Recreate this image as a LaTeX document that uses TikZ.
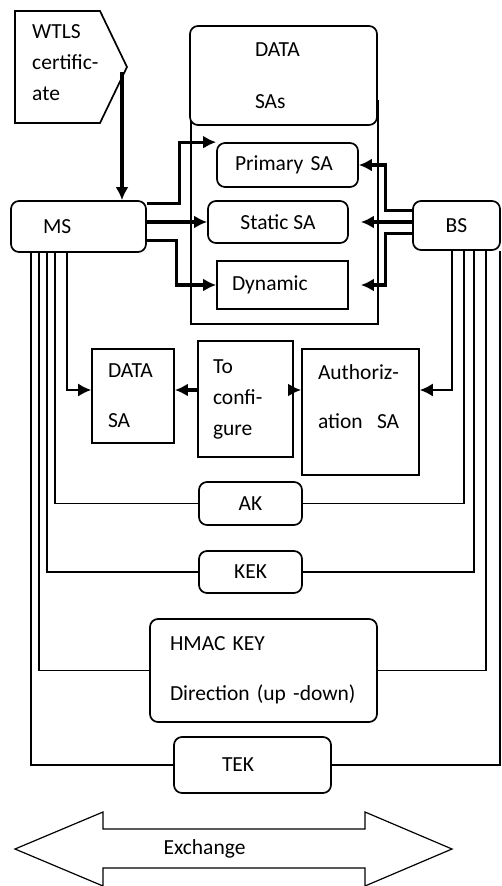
\documentclass[tikz,border=0pt]{standalone}
\usepackage{fontspec}
\setmainfont{Carlito}
\usetikzlibrary{arrows.meta,positioning,calc}

\begin{document}
\begin{tikzpicture}[x=1pt, y=-1pt,
        every node/.style={font=\fontsize{21.5}{31}\selectfont, inner sep=0pt},
        rbox/.style={draw, line width=1.7pt, rounded corners=8pt, fill=white},
        sbox/.style={draw, line width=1.7pt, fill=white},
        wire/.style={line width=1.7pt},
        arr/.style={line width=3.2pt, -{Latex[length=13pt,width=13pt]}},
        tarr/.style={line width=1.7pt, -{Latex[length=13pt,width=13pt]}}]
        \useasboundingbox (0,0) rectangle (502,886);

        % WTLS certificate (flag shape)
        \draw[wire] (15,11) -- (100,11) -- (127,67) -- (100,123) -- (15,123) -- cycle;
        \node[align=left, anchor=west] (cert) at (32,63) {WTLS\\certific-\\ate};
        \coordinate (certtip) at (122,72);

        % MS and BS
        \node[rbox, minimum width=135, minimum height=51, text width=71, align=left] (ms) at (78.5,226.5) {MS};
        \node[rbox, minimum width=87, minimum height=49] (bs) at (456.5,225.5) {BS};

        % DATA SAs group
        \node[sbox, minimum width=187, minimum height=223, anchor=north west] (grp) at (190,100) {};
        \node[rbox, minimum width=187, minimum height=99, text width=57, align=left] (datas) at (283.5,75.5) {DATA\\[21pt]SAs};
        \node[rbox, minimum width=141, minimum height=44, text width=105, align=left] (prim) at (287.5,165) {Primary SA};
        \node[rbox, minimum width=140, minimum height=42] (stat) at (278,222) {Static SA};
        \node[sbox, minimum width=131, minimum height=48, text width=101, align=left] (dyn) at (282.5,285) {Dynamic};

        % middle row
        \node[sbox, minimum width=82, minimum height=94, text width=50, align=left] (dsa) at (133,396) {DATA\\[19pt]SA};
        \node[sbox, minimum width=95, minimum height=116, text width=65, align=left] (conf) at (245.5,399) {To\\confi-\\gure};
        \node[sbox, minimum width=117, minimum height=126, text width=85, align=left] (auth) at (360.5,412) {Authoriz-\\[18pt]ation\ \ SA\\\mbox{}};

        % keys
        \node[rbox, minimum width=103, minimum height=43] (ak) at (250.5,503.5) {AK};
        \node[rbox, minimum width=103, minimum height=42] (kek) at (250.5,572) {KEK};
        \node[rbox, minimum width=227, minimum height=103, text width=187, align=left] (hmac) at (263.5,670.5) {HMAC KEY\\[19pt]Direction (up -down)};
        \node[rbox, minimum width=157, minimum height=56, text width=61, align=left] (tek) at (252.5,765) {TEK};

        % certificate to MS
        \draw[arr] (certtip) -- (certtip |- ms.north);

        % MS to the SAs
        \draw[arr] ([yshift=-3]ms.north east) -| ([xshift=-37]prim.north west) -- (prim.north west);
        \draw[arr] (ms.east |- stat.west) -- (stat.west);
        \draw[arr] ([yshift=12]ms.south east) -| ([xshift=-40]dyn.west) -- (dyn.west);

        % BS to the SAs
        \draw[arr] ([yshift=-10]bs.north west) -| ([xshift=27]prim.east) -- (prim.east);
        \draw[arr, shorten >=12pt] (bs.west |- stat.east) -- (stat.east);
        \draw[arr, shorten >=12pt] ([yshift=17]bs.south west) -| ([xshift=37]dyn.east) -- (dyn.east);

        % middle row arrows
        \draw[tarr] ([xshift=57]ms.south west) |- ([yshift=6]dsa.west);
        \draw[arr] ([yshift=9]conf.west) -- ([yshift=6]dsa.east);
        \draw[arr] ([yshift=9]conf.east) -- ([yshift=22]auth.west);
        \draw[tarr] ([xshift=-49]bs.south east) |- ([yshift=22]auth.east);

        % key wires
        \draw[wire] ([xshift=45]ms.south west) |- (ak.west);
        \draw[wire] (ak.east) -| ([xshift=-37]bs.south east);
        \draw[wire] ([xshift=37]ms.south west) |- (kek.west);
        \draw[wire] (kek.east) -| ([xshift=-27]bs.south east);
        \draw[wire] ([xshift=29]ms.south west) |- (hmac.west);
        \draw[wire] (hmac.east) -| ([xshift=-15]bs.south east);
        \draw[wire] ([xshift=21]ms.south west) |- (tek.west);
        \draw[wire] (tek.east) -| ([xshift=-1]bs.south east);

        % Exchange arrow
        \draw[line width=1.2pt] (15,849) -- (103,812) -- (103,829) -- (365,829) -- (365,812) -- (452,849) -- (365,886) -- (365,868) -- (103,868) -- (103,886) -- cycle;
        \node (exch) at (204.5,849) {Exchange};
    \end{tikzpicture}
\end{document}
